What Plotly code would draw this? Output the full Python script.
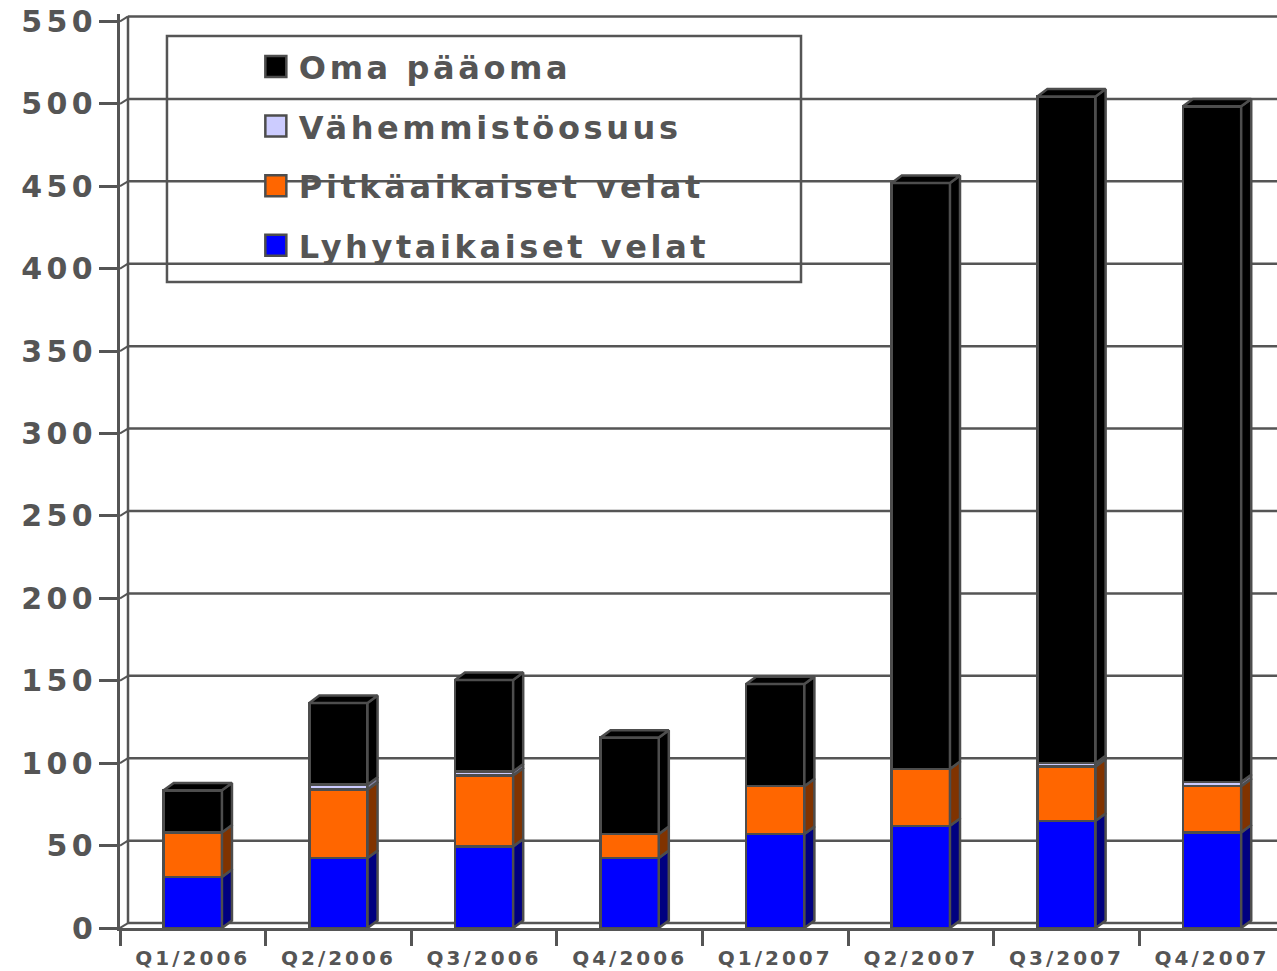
import plotly.graph_objects as go

# quarterly balance sheet (M EUR)
quarters = ["Q1/2006", "Q2/2006", "Q3/2006", "Q4/2006",
            "Q1/2007", "Q2/2007", "Q3/2007", "Q4/2007"]
lyhytaikaiset = [31, 42.5, 49.5, 42.5, 57, 62, 65, 58]
pitkaaikaiset = [27, 41.5, 43, 14.5, 29, 34.5, 33, 28]
vahemmisto = [0, 3, 2.5, 0, 0, 0, 2, 2.5]
oma_paaoma = [25.5, 49.5, 55.5, 58.5, 62, 355.5, 404.5, 410]
y_ticks = list(range(0, 551, 50))

# bottom -> top of the stack
series = [
    ("Lyhytaikaiset velat", lyhytaikaiset, "#0000ff", "#000080"),
    ("Pitkäaikaiset velat", pitkaaikaiset, "#ff6600", "#803300"),
    ("Vähemmistöosuus", vahemmisto, "#ccccff", "#8080a0"),
    ("Oma pääoma", oma_paaoma, "#000000", "#000000"),
]

EDGE = "#4d4d4d"
GRAY = "#555555"
FONT = "DejaVu Sans"
HALF = 0.2          # half bar width (category units)
DX, DY = 0.069, 4.5  # fake 3d depth of the bars
WX, WY = 0.055, 3.0  # depth of the back wall
XMAX = 7.446
YMAX = 554.5

fig = go.Figure()

# front faces; legend lists the top of the stack first
for k, (name, vals, col, _) in enumerate(series):
    fig.add_trace(go.Bar(
        x=quarters, y=vals, name=name, width=2 * HALF,
        marker=dict(color=col, line=dict(color=EDGE, width=2.5)),
        legendgroup=name, legendrank=len(series) - k, hoverinfo="skip"))

# side and top faces, computed from the stacked values
base = [0.0] * len(quarters)
for name, vals, col, side in series:
    xs, ys = [], []
    for i, v in enumerate(vals):
        if v <= 0:
            continue
        xr = i + HALF
        y0, y1 = base[i], base[i] + v
        xs += [xr, xr + DX, xr + DX, xr, xr, None]
        ys += [y0, y0 + DY, y1 + DY, y1, y0, None]
        base[i] = y1
    fig.add_trace(go.Scatter(
        x=xs, y=ys, xaxis="x2", mode="lines", fill="toself",
        fillcolor=side, line=dict(color=EDGE, width=2.5),
        showlegend=False, hoverinfo="skip"))

xs, ys = [], []
for i, top in enumerate(base):
    xl, xr = i - HALF, i + HALF
    xs += [xl, xl + DX, xr + DX, xr, xl, None]
    ys += [top, top + DY, top + DY, top, top, None]
fig.add_trace(go.Scatter(
    x=xs, y=ys, xaxis="x2", mode="lines", fill="toself",
    fillcolor="#000000", line=dict(color=EDGE, width=2.5),
    showlegend=False, hoverinfo="skip"))

# back wall grid
shapes = []
for v in y_ticks:
    shapes.append(dict(type="line", xref="x", yref="y", layer="below",
                       x0=-0.5 + WX, x1=XMAX, y0=v + WY, y1=v + WY,
                       line=dict(color=GRAY, width=2.5)))
    shapes.append(dict(type="line", xref="x", yref="y", layer="below",
                       x0=-0.5, x1=-0.5 + WX, y0=v, y1=v + WY,
                       line=dict(color=GRAY, width=2)))
shapes.append(dict(type="line", xref="x", yref="y", layer="below",
                   x0=-0.5 + WX, x1=-0.5 + WX, y0=WY, y1=y_ticks[-1] + WY,
                   line=dict(color=GRAY, width=2.5)))
# legend frame
shapes.append(dict(type="rect", xref="paper", yref="paper", layer="below",
                   x0=0.0406, x1=0.5886, y0=0.7068, y1=0.9759,
                   fillcolor="white", line=dict(color=GRAY, width=2.5)))

fig.update_layout(
    width=1277, height=971,
    margin=dict(l=120, r=0, t=14, b=43),
    paper_bgcolor="white", plot_bgcolor="white",
    barmode="stack",
    showlegend=True,
    legend=dict(x=0.120, y=0.9725, xanchor="left", yanchor="top",
                traceorder="grouped", tracegroupgap=15,
                bgcolor="rgba(0,0,0,0)", borderwidth=0,
                font=dict(family=FONT, size=32, color=GRAY, weight="bold")),
    xaxis=dict(type="category", range=[-0.5, XMAX], showline=True,
               linecolor=GRAY, linewidth=2.5, ticks="outside",
               tickson="boundaries", ticklen=15, tickwidth=2.5,
               tickcolor=GRAY, showgrid=False, ticklabelstandoff=10,
               tickfont=dict(family=FONT, size=20, color=GRAY, weight="bold")),
    xaxis2=dict(overlaying="x", range=[-0.5, XMAX], visible=False),
    yaxis=dict(range=[0, YMAX], tickvals=y_ticks, showline=True,
               linecolor=GRAY, linewidth=2.5, ticks="outside", ticklen=18,
               tickwidth=2.5, tickcolor=GRAY, showgrid=False, zeroline=False,
               ticklabelstandoff=-4,
               tickfont=dict(family=FONT, size=30, color=GRAY, weight="bold")),
    shapes=shapes,
)

# the slide font is much wider than DejaVu; widen the letters a bit,
# let the legend text run past plotly's measured box, bigger legend swatches
post_js = """
document.body.style.margin = '0';
var gd = document.getElementById('{plot_id}');
function restyleText() {
  gd.querySelectorAll('.xtick text').forEach(function(t){ t.style.letterSpacing = '3px'; });
  gd.querySelectorAll('.ytick text').forEach(function(t){ t.style.letterSpacing = '4.5px'; });
  gd.querySelectorAll('.legendtext').forEach(function(t){ t.style.letterSpacing = '3.6px'; });
  gd.querySelectorAll('.legend .scrollbox').forEach(function(g){ g.removeAttribute('clip-path'); });
  gd.querySelectorAll('.legend .legendpoints path').forEach(function(p){
    p.setAttribute('d', 'M7.5,10.5H-13.5V-10.5H7.5Z');
  });
}
restyleText();
gd.on('plotly_afterplot', restyleText);
"""

fig.write_html("out.html", post_script=post_js, config={"displayModeBar": False})
